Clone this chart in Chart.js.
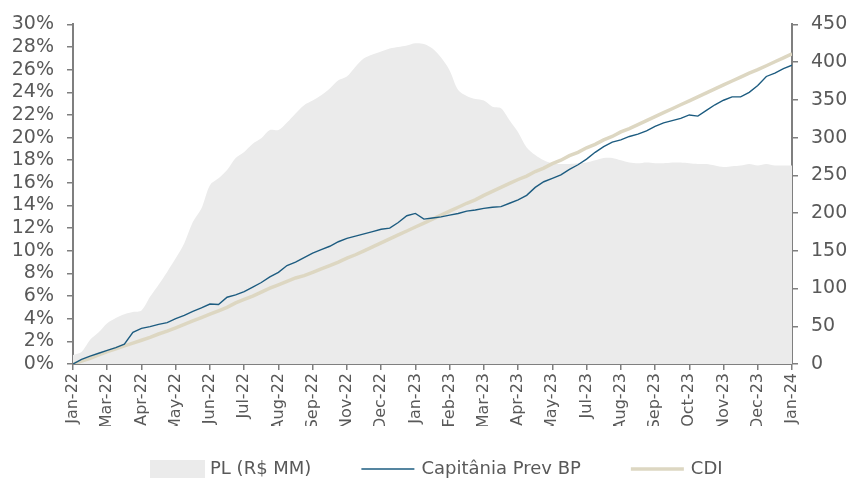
<!DOCTYPE html>
<html>
<head>
<meta charset="utf-8">
<script src="https://cdn.jsdelivr.net/npm/chart.js@4"></script>
<style>
  body { margin: 0; background: #fff; }
</style>
</head>
<body>
<canvas id="myChart" width="860" height="480"></canvas>
<script>
// tick labels on the time axis (one every 4 data steps)
const xLabels = ['Jan-22', 'Mar-22', 'Apr-22', 'May-22', 'Jun-22', 'Jul-22', 'Aug-22', 'Sep-22',
    'Nov-22', 'Dec-22', 'Jan-23', 'Feb-23', 'Mar-23', 'Apr-23', 'May-23', 'Jul-23',
    'Aug-23', 'Sep-23', 'Oct-23', 'Nov-23', 'Dec-23', 'Jan-24'];

// PL (R$ MM), right axis
const plValues = [12, 16, 32, 42, 54, 61, 66, 69, 71, 89, 105, 122, 140, 160, 188, 206, 237, 246, 257, 273,
    281, 292, 299, 310, 310, 320, 332, 343, 349, 356, 365, 376, 381, 394, 405, 410, 414, 418, 420, 422,
    425, 424, 418, 406, 389, 363, 355, 351, 349, 341, 339, 323, 307, 287, 277, 270, 266, 265, 265, 266,
    267, 270, 273, 273, 270, 267, 266, 267, 266, 266, 267, 267, 266, 265, 265, 263, 261, 262, 263, 265,
    263, 265, 263, 263, 263];

// Capitânia Prev BP, accumulated %
const fundValues = [0, 0.4, 0.7, 0.95, 1.2, 1.45, 1.75, 2.8, 3.15, 3.3, 3.5, 3.65, 4.0, 4.3, 4.65, 4.95, 5.3, 5.25, 5.9, 6.1,
    6.4, 6.8, 7.2, 7.7, 8.1, 8.7, 9.0, 9.4, 9.8, 10.1, 10.4, 10.8, 11.1, 11.3, 11.5, 11.7, 11.9, 12.0, 12.5, 13.1,
    13.3, 12.8, 12.9, 13.0, 13.15, 13.3, 13.5, 13.6, 13.75, 13.85, 13.9, 14.2, 14.5, 14.9, 15.6, 16.1, 16.4, 16.7, 17.2, 17.6,
    18.1, 18.7, 19.2, 19.6, 19.8, 20.1, 20.3, 20.6, 21.0, 21.3, 21.5, 21.7, 22.0, 21.9, 22.4, 22.9, 23.3, 23.6, 23.6, 24.0,
    24.6, 25.4, 25.7, 26.1, 26.4];

// CDI, accumulated %
const cdiValues = [0, 0.25, 0.5, 0.8, 1.1, 1.35, 1.6, 1.85, 2.1, 2.35, 2.65, 2.9, 3.2, 3.5, 3.8, 4.1, 4.4, 4.7, 5.0, 5.4,
    5.7, 6.0, 6.35, 6.7, 7.0, 7.3, 7.6, 7.8, 8.1, 8.4, 8.7, 9.0, 9.35, 9.65, 10.0, 10.35, 10.7, 11.05, 11.4, 11.75,
    12.1, 12.45, 12.8, 13.15, 13.5, 13.85, 14.2, 14.5, 14.9, 15.25, 15.6, 15.95, 16.3, 16.6, 17.0, 17.3, 17.7, 18.0, 18.4, 18.7,
    19.1, 19.4, 19.8, 20.1, 20.5, 20.8, 21.15, 21.5, 21.85, 22.2, 22.55, 22.9, 23.25, 23.6, 23.95, 24.3, 24.65, 25.0, 25.35, 25.7,
    26.0, 26.35, 26.7, 27.05, 27.4];

const steps = plValues.map((v, i) => i);

const textColor = '#595959';
const axisColor = '#7f7f7f';
const fontFamily = '"DejaVu Sans", sans-serif';
Chart.defaults.font.family = fontFamily;
Chart.defaults.color = textColor;

// legend drawn under the axis: box / line marker, then label
const bottomLegend = {
    id: 'bottomLegend',
    afterDraw(c) {
        const g = c.ctx;
        const y = 469;
        let x = 150;
        g.save();
        g.font = '18px ' + fontFamily;
        g.textBaseline = 'middle';
        c.data.datasets.forEach((ds, i) => {
            if (i === 0) {
                g.fillStyle = ds.backgroundColor;
                g.fillRect(x, y - 9, 55, 18);
            } else {
                g.strokeStyle = ds.borderColor;
                g.lineWidth = ds.borderWidth;
                g.beginPath();
                g.moveTo(x, y);
                g.lineTo(x + 53, y);
                g.stroke();
            }
            x += 60;
            g.fillStyle = textColor;
            g.fillText(ds.label, x, y);
            x += g.measureText(ds.label).width + 50;
        });
        g.restore();
    }
};

const ctx = document.getElementById('myChart');

var chart = new Chart(ctx, {
    type: 'line',
    data: {
        labels: steps,
        datasets: [{
            label: 'PL (R$ MM)',
            data: plValues,
            yAxisID: 'y1',
            fill: 'origin',
            backgroundColor: '#ebebeb',
            borderColor: '#ebebeb',
            borderWidth: 0,
            pointRadius: 0,
            tension: 0.3,
            order: 3
        }, {
            label: 'Capitânia Prev BP',
            data: fundValues,
            yAxisID: 'y',
            borderColor: '#1d5c80',
            backgroundColor: '#1d5c80',
            borderWidth: 1.4,
            pointRadius: 0,
            tension: 0,
            order: 1
        }, {
            label: 'CDI',
            data: cdiValues,
            yAxisID: 'y',
            borderColor: '#ddd7c2',
            backgroundColor: '#ddd7c2',
            borderWidth: 3.5,
            pointRadius: 0,
            tension: 0,
            order: 2
        }]
    },
    options: {
        responsive: false,
        animation: false,
        layout: { padding: { top: 24, left: 0, right: 0, bottom: 54 } },
        plugins: {
            tooltip: { enabled: false },
            legend: { display: false }
        },
        scales: {
            x: {
                type: 'linear',
                min: 0,
                max: 84,
                afterFit: (s) => { s.height = 62; },
                grid: { drawOnChartArea: false, drawTicks: true, tickLength: 6, color: axisColor, lineWidth: 1.5 },
                border: { color: axisColor, width: 2 },
                ticks: {
                    stepSize: 4,
                    autoSkip: false,
                    minRotation: 90,
                    maxRotation: 90,
                    padding: 3,
                    font: { size: 16 },
                    callback: (v) => xLabels[v / 4]
                }
            },
            y: {
                position: 'left',
                min: 0,
                max: 30,
                afterFit: (s) => { s.width = 73; },
                grid: { drawOnChartArea: false, tickLength: 6, color: axisColor, lineWidth: 1.5 },
                border: { color: axisColor, width: 2 },
                ticks: {
                    stepSize: 2,
                    autoSkip: false,
                    padding: 13,
                    font: { size: 19 },
                    callback: (v) => v + '%'
                }
            },
            y1: {
                position: 'right',
                min: 0,
                max: 450,
                afterFit: (s) => { s.width = 68; },
                grid: { drawOnChartArea: false, tickLength: 6, color: axisColor, lineWidth: 1.5 },
                border: { color: axisColor, width: 2 },
                ticks: {
                    stepSize: 50,
                    autoSkip: false,
                    padding: 13,
                    font: { size: 19 }
                }
            }
        }
    },
    plugins: [bottomLegend]
});
</script>
</body>
</html>
